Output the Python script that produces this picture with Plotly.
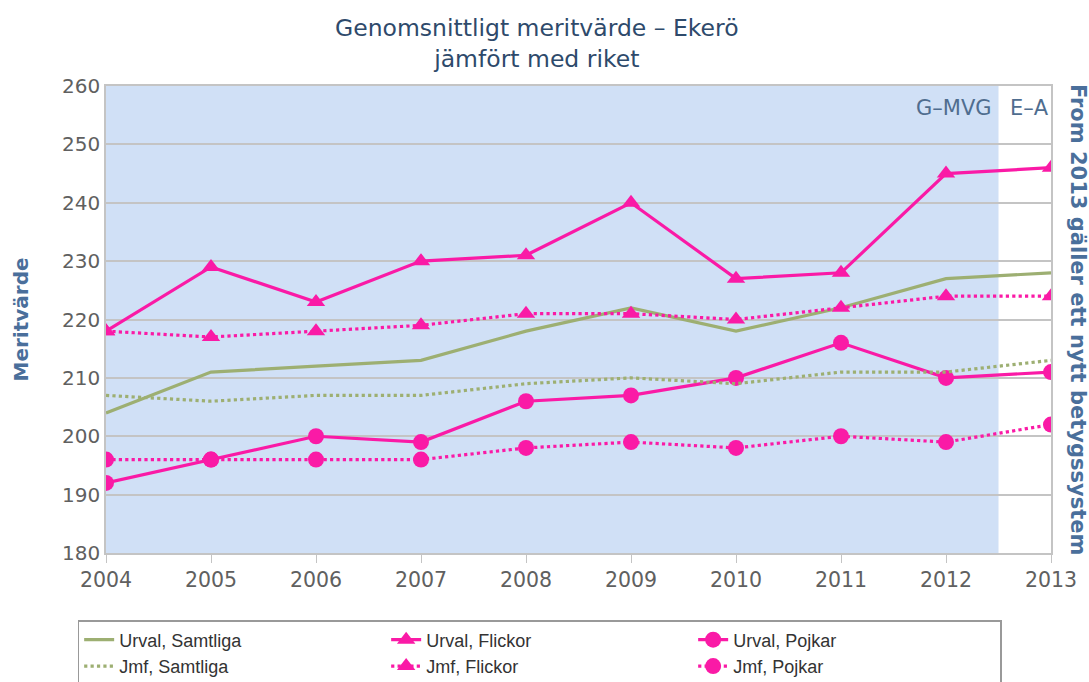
import plotly.graph_objects as go

years = [2004, 2005, 2006, 2007, 2008, 2009, 2010, 2011, 2012, 2013]
urval_samtliga = [204, 211, 212, 213, 218, 222, 218, 222, 227, 228]
urval_flickor = [218, 229, 223, 230, 231, 240, 227, 228, 245, 246]
urval_pojkar = [192, 196, 200, 199, 206, 207, 210, 216, 210, 211]
jmf_samtliga = [207, 206, 207, 207, 209, 210, 209, 211, 211, 213]
jmf_flickor = [218, 217, 218, 219, 221, 221, 220, 222, 224, 224]
jmf_pojkar = [196, 196, 196, 196, 198, 199, 198, 200, 199, 202]

PINK = "#fa1aa6"
OLIVE = "#9daf72"
GRID = "#c4c4c4"
SLATE = "#4a6f9b"

fig = go.Figure()

def add(name, vals, color, dash, symbol):
    mode = "lines+markers" if symbol else "lines"
    fig.add_trace(go.Scatter(
        x=years, y=vals, name=name, mode=mode,
        line=dict(color=color, width=3.2, dash=dash),
        marker=dict(symbol=symbol or "circle", size=16, color=color),
    ))

add("Urval, Samtliga", urval_samtliga, OLIVE, "solid", None)
add("Urval, Flickor", urval_flickor, PINK, "solid", "triangle-up")
add("Urval, Pojkar", urval_pojkar, PINK, "solid", "circle")
add("Jmf, Samtliga", jmf_samtliga, OLIVE, "dot", None)
add("Jmf, Flickor", jmf_flickor, PINK, "dot", "triangle-up")
add("Jmf, Pojkar", jmf_pojkar, PINK, "dot", "circle")

fig.add_shape(type="rect", xref="x", yref="y", x0=2004, x1=2012.5, y0=180, y1=260,
              fillcolor="#d0e0f6", line=dict(width=0), layer="below")

fig.add_annotation(x=2012.46, y=256.3, xref="x", yref="y", text="G–MVG", showarrow=False,
                   xanchor="right", yanchor="middle",
                   font=dict(family="DejaVu Sans", size=21, color="#4f6d8f"))
fig.add_annotation(x=2013.0, y=256.3, xref="x", yref="y", text="E–A", showarrow=False,
                   xanchor="right", yanchor="middle",
                   font=dict(family="DejaVu Sans", size=21, color="#4f6d8f"))
fig.add_annotation(x=(1078 - 106) / 945, y=(553 - 319) / 467, xref="paper", yref="paper",
                   text="<b>From 2013 gäller ett nytt betygssystem</b>", showarrow=False,
                   textangle=90, xanchor="center", yanchor="middle",
                   font=dict(family="DejaVu Sans", size=21, color=SLATE))

fig.add_annotation(x=(537 - 106) / 945, y=(553 - 44) / 467, xref="paper", yref="paper",
                   text="Genomsnittligt meritvärde – Ekerö<br>jämfört med riket",
                   showarrow=False, xanchor="center", yanchor="middle",
                   font=dict(family="DejaVu Sans", size=23.5, color="#2e4a6b"))

fig.update_layout(
    width=1089, height=682,
    margin=dict(l=106, r=38, t=86, b=129, autoexpand=False),
    paper_bgcolor="white", plot_bgcolor="white",
    xaxis=dict(range=[2004, 2013], tickmode="array", tickvals=years,
               ticktext=[str(y) for y in years], automargin=False,
               showgrid=False, zeroline=False,
               showline=True, mirror=True, linecolor=GRID, linewidth=1.5,
               ticks="outside", ticklen=8, tickcolor=GRID,
               tickfont=dict(family="DejaVu Sans", size=20.5, color="#606060")),
    yaxis=dict(range=[180, 260], dtick=10, showgrid=True, gridcolor=GRID, gridwidth=1.5,
               automargin=False,
               zeroline=False, showline=True, mirror=True, linecolor=GRID, linewidth=1.5,
               tickfont=dict(family="DejaVu Sans", size=20, color="#606060"),
               title=dict(text="<b>Meritvärde</b>", standoff=28,
                          font=dict(family="DejaVu Sans", size=20, color=SLATE))),
    legend=dict(orientation="h", x=-0.03, y=-0.1435, xanchor="left", yanchor="top",
                entrywidth=262, entrywidthmode="pixels",
                bordercolor="#999999", borderwidth=1.5, bgcolor="white",
                font=dict(family="Liberation Sans", size=18, color="#333333"),
                tracegroupgap=0),
    showlegend=True,
)

fig.write_html("out.html", config={"displayModeBar": False},
               post_script="document.body.style.margin='0';")
